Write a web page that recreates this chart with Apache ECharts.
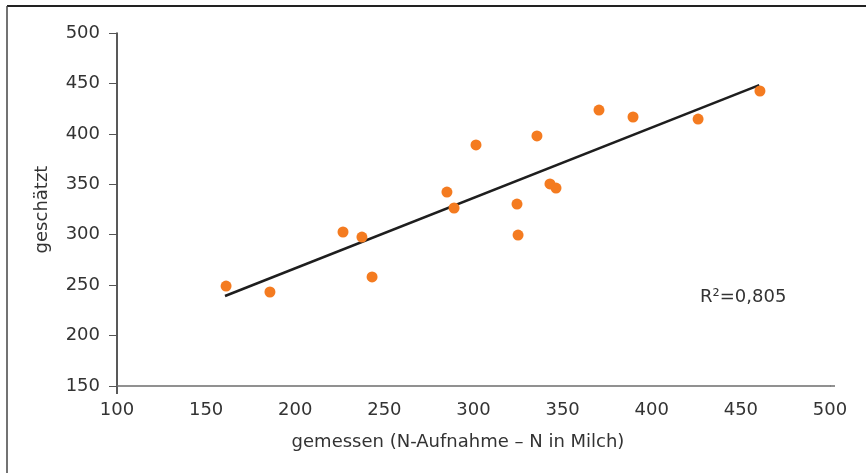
<!DOCTYPE html>
<html>
<head>
<meta charset="utf-8">
<script src="https://cdn.jsdelivr.net/npm/echarts@6/dist/echarts.min.js"></script>
<style>
html,body{margin:0;padding:0;background:#fff;}
#c{width:866px;height:473px;}
</style>
</head>
<body>
<div id="c"></div>
<script>
// Measured (x) and estimated (y) values
var measured = [161.2, 185.8, 226.8, 237.4, 243.1, 285.1, 289.1, 301.4, 324.4, 325.0, 335.6, 342.9, 346.3, 370.4, 389.5, 426.0, 460.7];
var estimated = [249.1, 243.2, 302.7, 297.7, 258.1, 342.3, 326.5, 389.0, 330.4, 299.7, 397.9, 350.3, 346.3, 423.6, 416.7, 414.7, 442.5];
// Regression line end points
var trendX = [160.6, 460.3];
var trendY = [239.2, 448.4];
var xTicks = [100, 500, 50];
var yTicks = [150, 500, 50];
var xName = 'gemessen (N-Aufnahme – N in Milch)';
var yName = 'geschätzt';
var r2Label = 'R²=0,805';

var font = 'DejaVu Sans, Liberation Sans, sans-serif';
var scatterData = measured.map(function (x, i) { return [x, estimated[i]]; });
var trendData = trendX.map(function (x, i) { return [x, trendY[i]]; });

var chart = echarts.init(document.getElementById('c'), null, {renderer: 'canvas'});
chart.setOption({
  animation: false,
  backgroundColor: '#fff',
  grid: {left: 117, right: 36, top: 33, bottom: 87, containLabel: false},
  xAxis: {
    type: 'value', min: xTicks[0], max: xTicks[1], interval: xTicks[2],
    name: xName, nameLocation: 'middle', nameGap: 47,
    nameTextStyle: {color: '#333', fontSize: 18, fontFamily: font, padding: [0, 31, 0, 0]},
    axisLine: {show: true, lineStyle: {color: '#6e6e6e', width: 1.5}},
    axisTick: {show: false},
    axisLabel: {color: '#333', fontSize: 18, fontFamily: font, margin: 15},
    splitLine: {show: false}
  },
  yAxis: {
    type: 'value', min: yTicks[0], max: yTicks[1], interval: yTicks[2],
    name: yName, nameLocation: 'middle', nameGap: 66,
    nameTextStyle: {color: '#333', fontSize: 18, fontFamily: font},
    axisLine: {show: true, lineStyle: {color: '#222', width: 1.5}},
    axisTick: {show: true, length: 8, lineStyle: {color: '#555', width: 1}},
    axisLabel: {color: '#333', fontSize: 18, fontFamily: font, margin: 17},
    splitLine: {show: false}
  },
  series: [
    {
      type: 'line', data: trendData, showSymbol: false, symbol: 'none',
      lineStyle: {color: '#1e1e1e', width: 2.5}, z: 2
    },
    {
      type: 'scatter', data: scatterData, symbolSize: 11,
      itemStyle: {color: '#f47b20', opacity: 1}, z: 3
    }
  ]
});

// Decorations: outer frame, axis extension tick, annotation
var p100 = chart.convertToPixel({xAxisIndex: 0}, xTicks[0]);
var pMax = chart.convertToPixel({xAxisIndex: 0}, xTicks[1]);
var yBase = chart.convertToPixel({yAxisIndex: 0}, yTicks[0]);
chart.setOption({
  graphic: [
    {type: 'line', shape: {x1: 7, y1: 6, x2: 866, y2: 6}, style: {stroke: '#222', lineWidth: 2}},
    {type: 'line', shape: {x1: 7, y1: 6, x2: 7, y2: 473}, style: {stroke: '#444', lineWidth: 1.5}},
    {type: 'line', shape: {x1: p100, y1: yBase, x2: p100, y2: yBase + 8}, style: {stroke: '#222', lineWidth: 1.5}},
    {type: 'line', shape: {x1: pMax, y1: yBase, x2: pMax + 5, y2: yBase}, style: {stroke: '#6e6e6e', lineWidth: 1.5}},
    {type: 'text', x: 700, y: 297, style: {text: r2Label, fill: '#333', font: '18px ' + font, textVerticalAlign: 'middle', textAlign: 'left'}}
  ]
});
</script>
</body>
</html>
